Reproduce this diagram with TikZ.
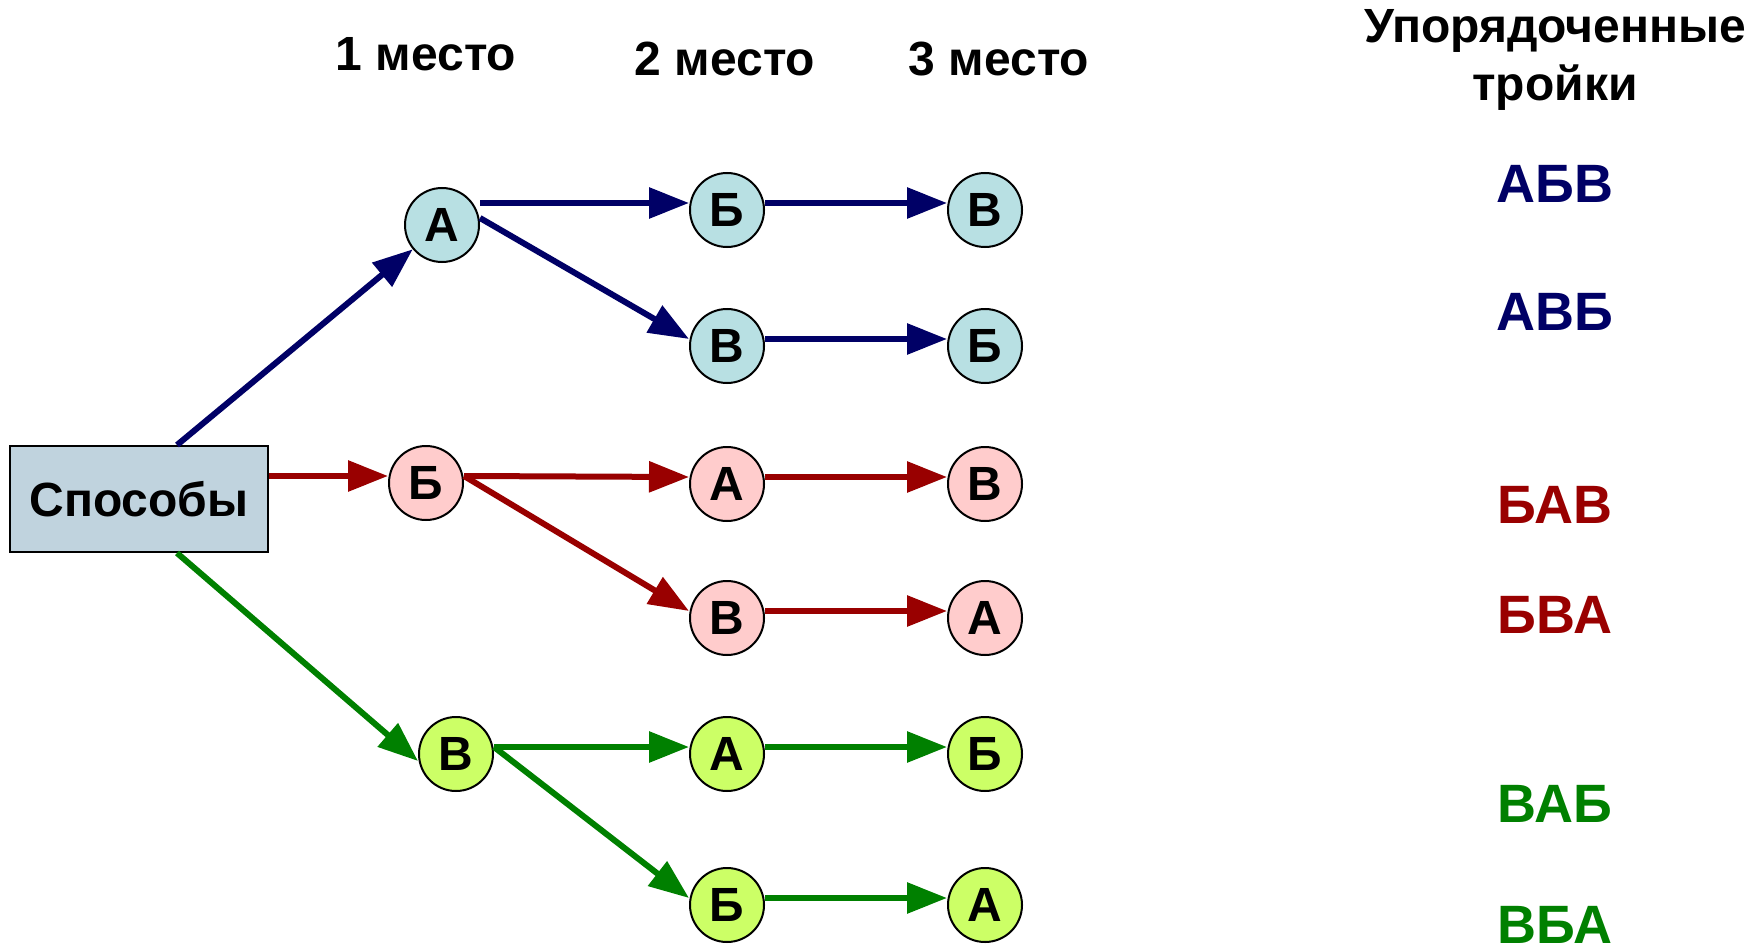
\documentclass[tikz,border=0pt]{standalone}
\usepackage{fontspec}
\setmainfont{Liberation Sans}
\usetikzlibrary{arrows.meta}
\definecolor{navyline}{HTML}{000066}
\definecolor{redline}{HTML}{990000}
\definecolor{greenline}{HTML}{008000}
\definecolor{bluefill}{HTML}{B8E0E3}
\definecolor{redfill}{HTML}{FFCCCC}
\definecolor{greenfill}{HTML}{CCFF66}
\definecolor{boxfill}{HTML}{C0D3DE}
\tikzset{
	letter/.style={circle, draw=black, line width=1pt, minimum size=37pt, inner sep=0pt, font=\fontsize{24}{24}\selectfont\bfseries},
	head/.style={font=\fontsize{24}{29}\selectfont\bfseries, align=center},
	triple/.style={font=\fontsize{27}{27}\selectfont\bfseries},
	link/.style={line width=3pt, -{Triangle[length=20pt,width=15pt]}},
}
\begin{document}
\begin{tikzpicture}[x=0.5pt, y=-0.5pt]
			%%%%% START %%%%%
			\useasboundingbox (0, 0) rectangle (1760, 952);
			
			\node[head] (h1) at (426, 54) {1 место};
			\node[head] (h2) at (725, 59) {2 место};
			\node[head] (h3) at (999, 59) {3 место};
			\node[head] (htr) at (1555, 60) {Упорядоченные\\тройки};
			
			\node[draw=black, line width=1pt, fill=boxfill, minimum width=129pt, minimum height=53pt, font=\fontsize{24}{24}\selectfont\bfseries] (box) at (139, 499) {Способы};
			
			% first letter A
			\node[letter, fill=bluefill] (a) at (442, 225) {А};
			\node[letter, fill=bluefill] (ab) at (727, 210) {Б};
			\node[letter, fill=bluefill] (abv) at (985, 210) {В};
			\node[letter, fill=bluefill] (av) at (727, 346) {В};
			\node[letter, fill=bluefill] (avb) at (985, 346) {Б};
			
			% first letter B
			\node[letter, fill=redfill] (b) at (426, 483) {Б};
			\node[letter, fill=redfill] (ba) at (727, 484) {А};
			\node[letter, fill=redfill] (bav) at (985, 484) {В};
			\node[letter, fill=redfill] (bv) at (727, 618) {В};
			\node[letter, fill=redfill] (bva) at (985, 618) {А};
			
			% first letter V
			\node[letter, fill=greenfill] (v) at (456, 754) {В};
			\node[letter, fill=greenfill] (va) at (727, 754) {А};
			\node[letter, fill=greenfill] (vab) at (985, 754) {Б};
			\node[letter, fill=greenfill] (vb) at (727, 905) {Б};
			\node[letter, fill=greenfill] (vba) at (985, 905) {А};
			
			\draw[link, navyline] ([xshift=19pt]box.north) -- (a);
			\draw[link, navyline] (a.east |- ab.west) ++(0, -7) -- ([yshift=3.5pt]ab.west);
			\draw[link, navyline] ([yshift=3.5pt]a.east) -- ([yshift=3.5pt]av.west);
			\draw[link, navyline] ([yshift=3.5pt]ab.east) -- ([yshift=3.5pt]abv.west);
			\draw[link, navyline] ([yshift=3.5pt]av.east) -- ([yshift=3.5pt]avb.west);
			
			\draw[link, redline] (box.east |- b.west) ++(0, -7) -- ([yshift=3.5pt]b.west);
			\draw[link, redline] ([yshift=3.5pt]b.east) -- ([yshift=3.5pt]ba.west);
			\draw[link, redline] ([yshift=3.5pt]b.east) -- ([yshift=3.5pt]bv.west);
			\draw[link, redline] ([yshift=3.5pt]ba.east) -- ([yshift=3.5pt]bav.west);
			\draw[link, redline] ([yshift=3.5pt]bv.east) -- ([yshift=3.5pt]bva.west);
			
			\draw[link, greenline] ([xshift=19pt]box.south) -- ([yshift=-3.5pt]v.west);
			\draw[link, greenline] ([yshift=3.5pt]v.east) -- ([yshift=3.5pt]va.west);
			\draw[link, greenline] ([yshift=3.5pt]v.east) -- ([yshift=3.5pt]vb.west);
			\draw[link, greenline] ([yshift=3.5pt]va.east) -- ([yshift=3.5pt]vab.west);
			\draw[link, greenline] ([yshift=3.5pt]vb.east) -- ([yshift=3.5pt]vba.west);
			
			\node[triple, text=navyline] (t1) at (1555, 184) {АБВ};
			\node[triple, text=navyline] (t2) at (1555, 312) {АВБ};
			\node[triple, text=redline] (t3) at (1555, 505) {БАВ};
			\node[triple, text=redline] (t4) at (1555, 615) {БВА};
			\node[triple, text=greenline] (t5) at (1555, 804) {ВАБ};
			\node[triple, text=greenline] (t6) at (1555, 925) {ВБА};
			
			%%%%% END %%%%%
\end{tikzpicture}
\end{document}
